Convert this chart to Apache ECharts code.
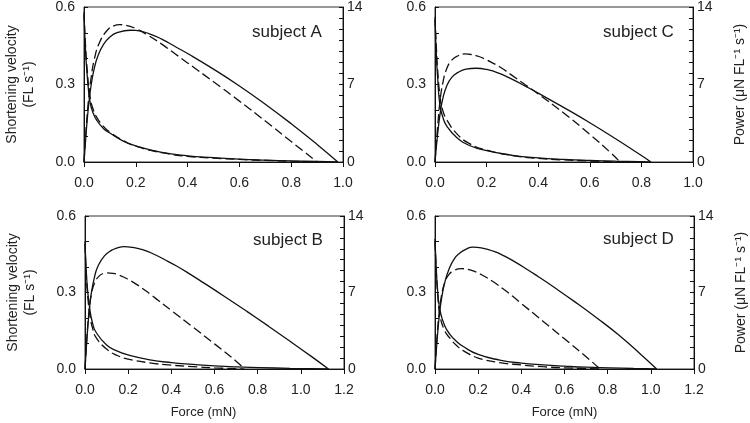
<!DOCTYPE html>
<html><head><meta charset="utf-8">
<script src="https://cdn.jsdelivr.net/npm/echarts@6/dist/echarts.min.js"></script>
<style>html,body{margin:0;padding:0;background:#fff}#c{width:750px;height:423px}</style>
</head><body><div id="c"></div><script>
// Panel order: A (top-left), C (top-right), B (bottom-left), D (bottom-right)
const panelNames = ['subject A', 'subject C', 'subject B', 'subject D'];
const forceMax = [1.0, 1.0, 1.2, 1.2];
const velocityTicks = [0, 0.3, 0.6];
const powerTicks = [0, 7, 14];

// [force (mN), shortening velocity (FL/s)]
const velA_solid = [[0,0.57],[0.005,0.45],[0.012,0.34],[0.023,0.235],[0.035,0.19],[0.05,0.16],[0.075,0.13],[0.1,0.112],[0.15,0.082],[0.2,0.062],[0.3,0.037],[0.4,0.024],[0.5,0.017],[0.6,0.011],[0.7,0.007],[0.8,0.004],[0.9,0.002],[0.98,0]];
const velA_dashed = [[0,0.58],[0.005,0.47],[0.012,0.36],[0.023,0.255],[0.035,0.205],[0.05,0.172],[0.075,0.138],[0.1,0.116],[0.15,0.084],[0.2,0.061],[0.3,0.036],[0.4,0.022],[0.5,0.015],[0.6,0.01],[0.7,0.006],[0.8,0.003],[0.9,0]];
const velC_solid = [[0,0.55],[0.005,0.42],[0.01,0.33],[0.019,0.22],[0.03,0.175],[0.045,0.14],[0.084,0.095],[0.136,0.063],[0.2,0.044],[0.3,0.026],[0.4,0.016],[0.5,0.01],[0.6,0.006],[0.7,0.003],[0.837,0]];
const velC_dashed = [[0,0.56],[0.005,0.45],[0.01,0.36],[0.02,0.25],[0.03,0.2],[0.045,0.165],[0.084,0.11],[0.136,0.07],[0.2,0.046],[0.3,0.025],[0.4,0.014],[0.5,0.008],[0.6,0.004],[0.717,0]];
const velB_solid = [[0,0.5],[0.005,0.4],[0.012,0.31],[0.023,0.23],[0.035,0.18],[0.05,0.146],[0.1,0.094],[0.15,0.07],[0.2,0.055],[0.3,0.036],[0.4,0.025],[0.5,0.018],[0.6,0.012],[0.7,0.008],[0.81,0.0055],[0.95,0.0025],[1.128,0]];
const velB_dashed = [[0,0.49],[0.005,0.38],[0.012,0.29],[0.023,0.21],[0.035,0.16],[0.05,0.125],[0.1,0.078],[0.15,0.053],[0.2,0.039],[0.3,0.024],[0.4,0.015],[0.5,0.009],[0.6,0.0045],[0.735,0]];
const velD_solid = [[0,0.51],[0.005,0.41],[0.012,0.31],[0.023,0.23],[0.045,0.17],[0.07,0.135],[0.1,0.108],[0.131,0.088],[0.2,0.057],[0.3,0.035],[0.4,0.023],[0.5,0.016],[0.6,0.011],[0.7,0.007],[0.81,0.0045],[0.92,0.002],[1.027,0]];
const velD_dashed = [[0,0.5],[0.005,0.4],[0.012,0.3],[0.023,0.21],[0.045,0.15],[0.07,0.12],[0.1,0.092],[0.131,0.072],[0.2,0.043],[0.3,0.025],[0.4,0.016],[0.5,0.009],[0.6,0.0045],[0.765,0]];

// [force (mN), power (uN FL^-1 s^-1)]
const powA_solid = [[0,0],[0.005,1.6],[0.012,3.7],[0.02,5.6],[0.028,7.0],[0.04,8.5],[0.054,9.6],[0.075,10.6],[0.1,11.3],[0.13,11.7],[0.178,11.9],[0.2,11.88],[0.25,11.6],[0.3,11.1],[0.35,10.45],[0.4,9.8],[0.5,8.39],[0.6,6.87],[0.7,5.22],[0.8,3.46],[0.9,1.59],[0.98,0]];
const powA_dashed = [[0,0],[0.005,1.9],[0.012,4.2],[0.02,6.2],[0.028,7.7],[0.04,9.3],[0.06,10.8],[0.09,11.9],[0.115,12.3],[0.138,12.4],[0.16,12.36],[0.2,12.05],[0.25,11.4],[0.3,10.65],[0.35,9.8],[0.4,8.95],[0.5,7.25],[0.6,5.5],[0.7,3.7],[0.8,1.85],[0.9,0]];
const powC_solid = [[0,0],[0.005,1.3],[0.012,2.9],[0.02,4.4],[0.03,5.7],[0.045,6.85],[0.065,7.65],[0.09,8.1],[0.12,8.38],[0.16,8.47],[0.2,8.36],[0.25,8.0],[0.3,7.46],[0.35,6.85],[0.4,6.22],[0.5,4.91],[0.6,3.55],[0.7,2.1],[0.8,0.58],[0.837,0]];
const powC_dashed = [[0,0],[0.005,1.6],[0.012,3.7],[0.02,5.6],[0.03,7.1],[0.045,8.4],[0.065,9.2],[0.09,9.6],[0.115,9.76],[0.14,9.71],[0.17,9.53],[0.2,9.22],[0.25,8.6],[0.3,7.8],[0.35,6.98],[0.4,6.15],[0.5,4.4],[0.6,2.5],[0.678,0.9],[0.717,0]];
const powB_solid = [[0,0],[0.005,1.6],[0.012,3.6],[0.02,5.4],[0.029,6.9],[0.045,8.5],[0.06,9.4],[0.09,10.35],[0.122,10.85],[0.15,11.08],[0.18,11.2],[0.22,11.13],[0.27,10.9],[0.32,10.5],[0.37,10.0],[0.42,9.47],[0.477,8.8],[0.55,7.88],[0.65,6.59],[0.75,5.27],[0.85,3.92],[0.95,2.54],[1.05,1.13],[1.128,0]];
const powB_dashed = [[0,0],[0.005,1.7],[0.012,3.8],[0.02,5.5],[0.03,6.9],[0.045,7.9],[0.065,8.5],[0.085,8.75],[0.1,8.8],[0.13,8.75],[0.16,8.58],[0.2,8.2],[0.25,7.6],[0.3,6.88],[0.34,6.27],[0.4,5.36],[0.5,3.84],[0.6,2.3],[0.7,0.72],[0.74,0]];
const powD_solid = [[0,0],[0.005,1.4],[0.012,3.2],[0.02,4.9],[0.03,6.4],[0.045,7.9],[0.066,9.2],[0.09,10.1],[0.114,10.6],[0.14,10.93],[0.176,11.16],[0.22,11.06],[0.27,10.78],[0.32,10.35],[0.37,9.8],[0.42,9.2],[0.477,8.47],[0.55,7.5],[0.65,6.12],[0.75,4.67],[0.85,3.13],[0.95,1.4],[1.027,0]];
const powD_dashed = [[0,0],[0.005,1.6],[0.012,3.6],[0.02,5.3],[0.03,6.7],[0.045,7.9],[0.065,8.65],[0.09,9.03],[0.122,9.18],[0.15,9.12],[0.18,8.95],[0.22,8.58],[0.27,7.98],[0.32,7.27],[0.36,6.65],[0.4,6.0],[0.5,4.38],[0.6,2.76],[0.7,1.12],[0.765,0]];

const panels = [
  {vs: velA_solid, vd: velA_dashed, ps: powA_solid, pd: powA_dashed},
  {vs: velC_solid, vd: velC_dashed, ps: powC_solid, pd: powC_dashed},
  {vs: velB_solid, vd: velB_dashed, ps: powB_solid, pd: powB_dashed},
  {vs: velD_solid, vd: velD_dashed, ps: powD_solid, pd: powD_dashed}
];

const FONT = 'Liberation Sans, Arial, sans-serif';
const TXT = '#222';
const LINE = '#111';
const gridBoxes = [
  {left: 84, top: 7, width: 259, height: 155},
  {left: 435, top: 7, width: 258, height: 155},
  {left: 85, top: 216, width: 259, height: 153},
  {left: 435, top: 216, width: 259, height: 153}
];
const titlePos = [[252, 24], [603, 24], [253, 232], [603, 231]];
const xNamePad = [[0,0,0,0], [0,0,0,0], [0,22,0,0], [0,0,0,0]];

const grids = gridBoxes.map(g => Object.assign({
  show: true, borderColor: '#333', borderWidth: 1, backgroundColor: 'transparent',
  containLabel: false, outerBoundsMode: 'none'
}, g));

const xAxes = [], yAxes = [], series = [], titles = [];
panels.forEach((p, i) => {
  const isBottom = i >= 2, isLeft = i % 2 === 0;
  xAxes.push({
    type: 'value', gridIndex: i, min: 0, max: forceMax[i], interval: 0.2,
    splitLine: {show: false},
    axisLine: {show: true, lineStyle: {color: LINE, width: 1}},
    axisTick: {show: true, inside: false, length: 5, lineStyle: {color: LINE}},
    axisLabel: {color: TXT, fontSize: 14, fontFamily: FONT, margin: 14, formatter: v => v.toFixed(1)},
    name: isBottom ? 'Force (mN)' : '', nameLocation: 'middle', nameGap: 37,
    nameTextStyle: {color: TXT, fontSize: 13, fontFamily: FONT, padding: xNamePad[i]}
  });
  yAxes.push({
    type: 'value', gridIndex: i, position: 'left', min: velocityTicks[0], max: velocityTicks[2], interval: velocityTicks[1],
    splitLine: {show: false},
    axisLine: {show: true, lineStyle: {color: LINE, width: 1}},
    axisTick: {show: true, inside: true, length: 4, lineStyle: {color: LINE}},
    minorTick: {show: true, splitNumber: 3, length: 4, lineStyle: {color: LINE}},
    axisLabel: {color: TXT, fontSize: 14, fontFamily: FONT, margin: 9, formatter: v => v.toFixed(1)},
    name: isLeft ? 'Shortening velocity\n(FL s\u207B\u00B9)' : '', nameLocation: 'middle', nameRotate: 90, nameGap: 46,
    nameTextStyle: {color: TXT, fontSize: 14, fontFamily: FONT, lineHeight: 17}
  });
  yAxes.push({
    type: 'value', gridIndex: i, position: 'right', min: powerTicks[0], max: powerTicks[2], interval: powerTicks[1],
    splitLine: {show: false},
    axisLine: {show: true, lineStyle: {color: LINE, width: 1}},
    axisTick: {show: true, inside: true, length: 4, lineStyle: {color: LINE}},
    minorTick: {show: true, splitNumber: 7, length: 4, lineStyle: {color: LINE}},
    axisLabel: {color: TXT, fontSize: 14, fontFamily: FONT, margin: 4, formatter: v => String(Math.round(v))},
    name: isLeft ? '' : 'Power (\u03BCN FL\u207B\u00B9 s\u207B\u00B9)', nameLocation: 'middle', nameRotate: 90, nameGap: 40,
    nameTextStyle: {color: TXT, fontSize: 14, fontFamily: FONT}
  });
  const mk = (data, yIdx, dashed) => ({
    type: 'line', xAxisIndex: i, yAxisIndex: yIdx, data: data, showSymbol: false, symbol: 'none',
    smooth: 0.5, silent: true, animation: false,
    lineStyle: {color: LINE, width: 1.3, type: dashed ? [9, 4] : 'solid'}
  });
  series.push(mk(p.vs, 2 * i, false), mk(p.vd, 2 * i, true), mk(p.ps, 2 * i + 1, false), mk(p.pd, 2 * i + 1, true));
  titles.push({text: panelNames[i], left: titlePos[i][0], top: titlePos[i][1], padding: 0,
    textStyle: {fontSize: 17, fontWeight: 'normal', color: TXT, fontFamily: FONT}});
});

const chart = echarts.init(document.getElementById('c'), null, {renderer: 'canvas'});
chart.setOption({
  animation: false, backgroundColor: '#fff',
  title: titles, grid: grids, xAxis: xAxes, yAxis: yAxes, series: series
});
</script></body></html>
